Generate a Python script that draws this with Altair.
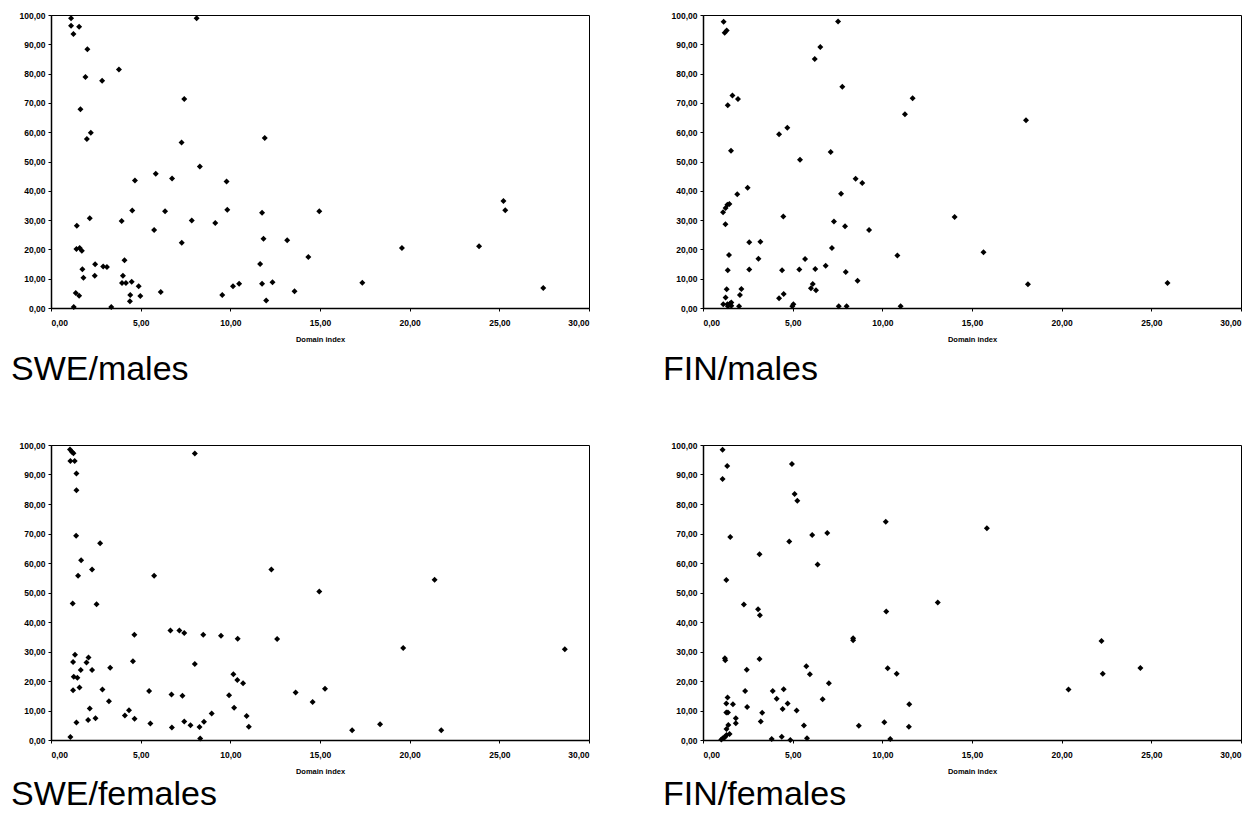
import altair as alt
import pandas as pd

# ---- SWE / males ----
swe_m_x = [1.12, 1.12, 1.57, 1.25, 2.03, 1.92, 2.85, 3.79, 8.12, 1.64, 2.22, 2.00, 7.43, 7.28,
           8.30, 5.84, 4.68, 6.75, 9.79, 11.92, 1.44, 2.16, 3.94, 4.53, 6.36, 5.75, 7.85, 9.16,
           9.83, 7.29, 11.77, 11.85, 13.17, 14.96, 1.42, 1.60, 1.72, 1.75, 1.81, 2.46, 2.44, 2.91,
           3.12, 4.10, 4.01, 3.96, 4.18, 4.50, 4.89, 4.42, 4.40, 4.98, 1.38, 1.57, 1.27, 3.36,
           6.12, 9.55, 10.15, 10.49, 11.66, 11.77, 12.35, 12.00, 13.58, 14.35, 17.36, 19.57,
           23.87, 25.23, 25.33, 27.45]
swe_m_y = [98.9, 96.3, 96.0, 93.5, 88.3, 78.8, 77.6, 81.4, 98.9, 67.8, 59.8, 57.7, 71.3, 56.5,
           48.3, 45.8, 43.5, 44.2, 43.2, 58.0, 28.1, 30.6, 29.7, 33.3, 33.0, 26.6, 29.9, 29.0,
           33.5, 22.3, 32.5, 23.6, 23.1, 33.0, 20.1, 20.5, 19.5, 13.2, 10.3, 14.9, 11.0, 14.2,
           14.0, 16.3, 11.0, 8.5, 8.5, 9.0, 7.4, 4.4, 2.3, 4.1, 5.1, 4.2, 0.3, 0.3,
           5.5, 4.4, 7.4, 8.3, 15.0, 8.3, 8.8, 2.6, 5.7, 17.4, 8.6, 20.5,
           21.1, 36.5, 33.4, 6.8]

# ---- FIN / males ----
fin_m_x = [1.15, 1.21, 1.32, 7.53, 6.54, 6.23, 7.77, 11.69, 11.26, 1.64, 1.95, 1.38, 4.24, 4.70,
           5.41, 7.12, 1.56, 2.49, 1.91, 8.51, 8.88, 7.70, 1.12, 1.26, 1.36, 1.47, 1.25, 4.48,
           7.30, 7.92, 9.26, 2.58, 3.20, 7.19, 1.45, 10.84, 3.09, 5.69, 1.38, 2.58, 4.41, 5.37,
           6.26, 6.84, 7.96, 8.62, 1.32, 2.14, 2.06, 6.12, 6.02, 6.30, 4.24, 4.50, 1.26, 1.13,
           1.36, 1.51, 1.58, 1.39, 2.01, 5.04, 4.98, 7.57, 8.01, 11.02, 1.58, 14.03, 15.64,
           18.01, 18.12, 25.90]
fin_m_y = [97.7, 93.9, 94.7, 97.8, 89.1, 85.0, 75.5, 71.6, 66.1, 72.5, 71.3, 69.2, 59.3, 61.5,
           50.6, 53.2, 53.7, 41.0, 38.8, 44.1, 42.7, 39.0, 32.7, 34.1, 35.2, 35.5, 28.6, 31.2,
           29.5, 27.9, 26.6, 22.4, 22.6, 20.5, 18.1, 17.9, 16.8, 16.7, 12.9, 13.1, 12.9, 13.1,
           13.3, 14.4, 12.3, 9.3, 6.4, 6.5, 4.4, 8.2, 6.7, 6.1, 3.3, 4.8, 3.6, 1.3,
           1.3, 1.5, 0.8, 0.6, 0.6, 1.3, 0.6, 0.6, 0.6, 0.6, 1.9, 31.1, 19.0,
           64.1, 8.1, 8.5]

# ---- SWE / females ----
swe_f_x = [1.06, 1.16, 1.25, 1.08, 1.32, 1.42, 1.42, 1.40, 1.68, 1.51, 2.29, 2.74, 1.21, 2.54,
           5.75, 8.02, 12.29, 14.96, 12.61, 1.34, 1.23, 1.27, 1.47, 1.23, 1.59, 1.66, 1.98, 2.09,
           2.29, 3.30, 2.87, 3.23, 1.42, 2.07, 2.16, 2.48, 1.08, 4.12, 4.35, 4.66, 4.57, 4.65,
           5.47, 5.54, 6.66, 7.16, 7.43, 6.72, 7.33, 6.74, 7.43, 7.78, 8.02, 8.49, 8.28, 8.53,
           8.32, 8.96, 9.48, 9.93, 10.17, 10.21, 10.41, 10.39, 10.71, 10.91, 11.03, 13.64, 14.59,
           15.28, 16.79, 18.35, 19.64, 21.39, 21.76, 28.65]
swe_f_y = [98.5, 97.7, 97.2, 94.6, 94.6, 90.3, 84.7, 69.2, 60.9, 55.7, 57.8, 66.7, 46.3, 46.0,
           55.7, 97.1, 57.8, 50.3, 34.2, 28.9, 26.4, 21.4, 21.1, 16.9, 17.8, 23.7, 26.3, 28.0,
           23.7, 24.5, 17.1, 13.1, 5.9, 6.8, 10.7, 7.4, 1.0, 8.3, 10.1, 7.2, 26.7, 35.7,
           16.6, 5.6, 37.1, 37.1, 36.3, 15.4, 15.0, 4.2, 6.3, 5.0, 25.8, 35.7, 4.4, 6.2,
           0.5, 9.0, 35.3, 15.2, 22.3, 10.9, 34.3, 20.3, 19.2, 8.1, 4.5, 16.1, 12.9,
           17.4, 3.3, 5.3, 31.2, 54.3, 3.3, 30.8]

# ---- FIN / females ----
fin_f_x = [1.09, 1.35, 1.09, 1.52, 1.30, 1.22, 1.24, 2.28, 3.15, 3.07, 3.17, 3.15, 2.44, 2.35,
           2.46, 1.37, 1.30, 1.67, 1.30, 1.39, 1.83, 1.83, 1.41, 1.31, 1.31, 1.48, 1.17, 1.02,
           1.11, 1.24, 3.22, 3.30, 3.83, 3.89, 4.11, 4.50, 4.44, 4.72, 4.39, 4.87, 4.81, 4.96,
           5.11, 5.26, 5.22, 5.63, 5.76, 5.96, 5.80, 6.09, 6.39, 6.67, 6.93, 7.02, 8.37, 8.37,
           8.69, 10.19, 10.22, 10.30, 10.11, 10.44, 10.80, 11.50, 11.48, 13.09, 15.83, 20.38,
           22.22, 22.29, 24.39]
fin_f_y = [98.4, 92.9, 88.5, 68.8, 54.2, 27.7, 27.0, 45.9, 63.0, 44.3, 42.3, 27.5, 23.8, 16.6,
           11.2, 14.4, 12.4, 12.1, 9.3, 9.3, 7.4, 5.7, 5.1, 3.7, 1.7, 2.0, 0.8, 0.2,
           0.6, 1.1, 6.3, 9.2, 0.3, 16.6, 14.0, 17.2, 10.5, 12.4, 1.1, 0.0, 67.3, 93.6,
           83.4, 81.1, 10.0, 4.9, 25.0, 22.3, 0.6, 69.5, 59.5, 13.8, 70.2, 19.2, 34.5, 33.8,
           4.8, 74.0, 43.6, 24.3, 6.0, 0.3, 22.5, 12.1, 4.5, 46.6, 71.8, 17.1,
           33.6, 22.5, 24.4]

x_ticks = [0, 5, 10, 15, 20, 25, 30]
y_ticks = [0, 10, 20, 30, 40, 50, 60, 70, 80, 90, 100]

FONT = "Liberation Sans"
DECIMAL_COMMA = "replace(format(datum.value, '.2f'), '.', ',')"
PANEL_W = 538

AXIS_STYLE = dict(
    grid=False, domainColor="black", domainWidth=1.5, tickColor="black", tickWidth=1,
    labelFont=FONT, labelFontSize=8.5, labelFontWeight="bold", labelColor="black",
    titleFont=FONT, titleColor="black",
)


def panel(xs, ys, label, height, title_offset):
    df = pd.DataFrame({"domain_index": xs, "value": ys})
    return (
        alt.Chart(df)
        .mark_point(shape="diamond", filled=True, color="black", size=36, opacity=1)
        .encode(
            x=alt.X(
                "domain_index:Q",
                scale=alt.Scale(domain=[0, 30], nice=False),
                axis=alt.Axis(
                    values=x_ticks, title="Domain index", labelExpr=DECIMAL_COMMA,
                    tickSize=3, labelPadding=7, titlePadding=9,
                    titleFontSize=7.5, titleFontWeight="bold", **AXIS_STYLE,
                ),
            ),
            y=alt.Y(
                "value:Q",
                scale=alt.Scale(domain=[0, 100], nice=False),
                axis=alt.Axis(
                    values=y_ticks, title=None, labelExpr=DECIMAL_COMMA,
                    tickSize=3, labelPadding=3, **AXIS_STYLE,
                ),
            ),
        )
        .properties(
            width=PANEL_W,
            height=height,
            title=alt.TitleParams(
                label, orient="bottom", anchor="start", frame="group", dx=-40,
                offset=title_offset, fontSize=34, font=FONT, fontWeight="normal",
                color="black",
            ),
        )
    )


chart = (
    alt.concat(
        panel(swe_m_x, swe_m_y, "SWE/males", 293, 10),
        panel(fin_m_x, fin_m_y, "FIN/males", 293, 10),
        panel(swe_f_x, swe_f_y, "SWE/females", 295, 3),
        panel(fin_f_x, fin_f_y, "FIN/females", 295, 3),
        columns=2,
        spacing=alt.RowColnumber(row=137, column=114),
        bounds="flush",
    )
    .properties(padding={"left": 10, "top": 10, "right": 5, "bottom": 2}, background="white")
    .configure_view(stroke="black", strokeWidth=1)
)

chart.save("out.html", embed_options={"renderer": "svg", "actions": False})
